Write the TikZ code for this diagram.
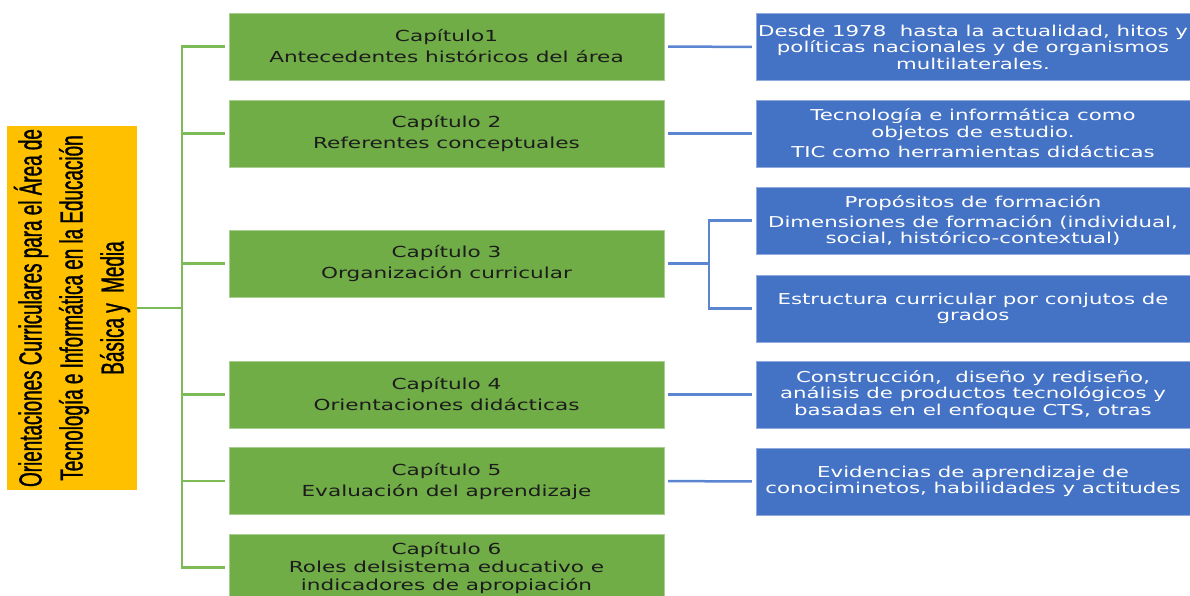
\documentclass[tikz,border=0pt]{standalone}
\usepackage{fontspec}
\setmainfont{DejaVu Sans}[FakeStretch=1.42]
\newfontfamily\narrowfont[FakeStretch=0.59, FakeBold=1]{Liberation Sans}
\usetikzlibrary{positioning}
\definecolor{rootyellow}{HTML}{FFC000}
\definecolor{capgreen}{HTML}{70AD47}
\definecolor{detblue}{HTML}{4472C4}
\definecolor{greenline}{HTML}{7CBB55}
\definecolor{blueline}{HTML}{5B85D0}
\definecolor{darktext}{HTML}{1C1C1C}
\tikzstyle{root} = [rectangle, fill=rootyellow, minimum width=364pt, minimum height=130pt, rotate=90, align=center, inner sep=0pt, font=\narrowfont\fontsize{32}{41}\selectfont]
\tikzstyle{chapter} = [rectangle, fill=capgreen, draw=capgreen!60!white, minimum width=435pt, minimum height=67pt, align=center, text=darktext, inner sep=0pt, font=\fontsize{15.2}{21}\selectfont]
\tikzstyle{detail} = [rectangle, fill=detblue, draw=detblue!60!white, minimum width=434pt, minimum height=67pt, align=center, text=white, inner sep=0pt, font=\fontsize{15}{16.5}\selectfont]
\tikzstyle{gline} = [line width=2.5pt, draw=greenline]
\tikzstyle{bline} = [line width=2.5pt, draw=blueline]

\begin{document}
\begin{tikzpicture}[x=1pt, y=-1pt]
                        \useasboundingbox (0,0) rectangle (1190,596);
                        \clip (0,0) rectangle (1190,596);
                        \node (OC) [root] at (72,308) {Orientaciones Curriculares para el Área de\\Tecnología e Informática en la Educación\\Básica y~ Media};
                        \node (C1) [chapter] at (446.5,46.5) {Capítulo1\\Antecedentes históricos del área};
                        \node (C2) [chapter] at (446.5,133.5) {Capítulo 2\\Referentes conceptuales};
                        \node (C3) [chapter] at (446.5,263.5) {Capítulo 3\\Organización curricular};
                        \node (C4) [chapter] at (446.5,394.5) {Capítulo 4\\Orientaciones didácticas};
                        \node (C5) [chapter] at (446.5,481) {Capítulo 5\\Evaluación del aprendizaje};
                        \node (C6) [chapter] at (446.5,567.5) {Capítulo 6\\[-3pt]Roles delsistema educativo e\\[-3pt]indicadores de apropiación};
                        \node (D1) [detail] at (973,47) {Desde 1978~ hasta la actualidad, hitos y\\políticas nacionales y de organismos\\multilaterales.};
                        \node (D2) [detail] at (973,133.5) {Tecnología e informática como\\objetos de estudio.\\[4pt]TIC como herramientas didácticas};
                        \node (D3a) [detail] at (973,220.5) {Propósitos de formación\\[3pt]Dimensiones de formación (individual,\\social, histórico-contextual)};
                        \node (D3b) [detail] at (973,308.5) {Estructura curricular por conjutos de\\grados};
                        \node (D4) [detail] at (973,394.5) {Construcción,~ diseño y rediseño,\\análisis de productos tecnológicos y\\basadas en el enfoque CTS, otras};
                        \node (D5) [detail] at (973,481.5) {Evidencias de aprendizaje de\\conociminetos, habilidades y actitudes};
                        \foreach \c in {C1,C2,C3,C4,C5,C6}
                            \draw [gline, shorten >=4pt] (OC.south) -- ++(45,0) |- (\c.west);
                        \draw [bline, shorten <=4pt, shorten >=4pt] (C1) -- (D1);
                        \draw [bline, shorten <=4pt, shorten >=4pt] (C2) -- (D2);
                        \draw [bline, shorten <=4pt, shorten >=4pt] (C3.east) -- ++(45,0) |- (D3a.west);
                        \draw [bline, shorten <=4pt, shorten >=4pt] (C3.east) -- ++(45,0) |- (D3b.west);
                        \draw [bline, shorten <=4pt, shorten >=4pt] (C4) -- (D4);
                        \draw [bline, shorten <=4pt, shorten >=4pt] (C5) -- (D5);
                    \end{tikzpicture}
\end{document}
